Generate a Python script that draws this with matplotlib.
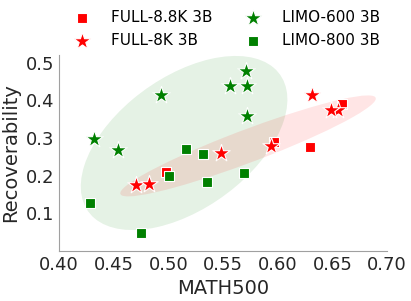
import numpy as np
import matplotlib.pyplot as plt
import matplotlib.transforms as transforms
from matplotlib.patches import Ellipse

# values (MATH500, Recoverability)
full88_x = [0.498, 0.597, 0.659, 0.630]
full88_y = [0.211, 0.289, 0.391, 0.275]
full8_x = [0.470, 0.482, 0.548, 0.594, 0.631, 0.655, 0.649]
full8_y = [0.176, 0.178, 0.261, 0.278, 0.415, 0.374, 0.373]
limo600_x = [0.493, 0.432, 0.454, 0.571, 0.556, 0.572, 0.572]
limo600_y = [0.415, 0.298, 0.267, 0.479, 0.438, 0.438, 0.358]
limo800_x = [0.501, 0.535, 0.428, 0.475, 0.516, 0.532, 0.569]
limo800_y = [0.200, 0.183, 0.127, 0.049, 0.271, 0.257, 0.207]

# shaded regions: center x, center y, half-extent x, half-extent y, correlation
limo_region = [0.5144, 0.2867, 0.0945, 0.231, 0.50]
full_region = [0.5729, 0.279, 0.1169, 0.134, 0.9375]


def region_ellipse(ax, cx, cy, hx, hy, r, **kwargs):
    ell = Ellipse((0, 0), width=2 * np.sqrt(1 + r), height=2 * np.sqrt(1 - r), **kwargs)
    t = transforms.Affine2D().rotate_deg(45).scale(hx, hy).translate(cx, cy)
    ell.set_transform(t + ax.transData)
    return ax.add_patch(ell)


fig = plt.figure(figsize=(4.11, 3.01), dpi=100)
ax = fig.add_axes([0.1436, 0.166, 0.798, 0.651])

region_ellipse(ax, *limo_region, facecolor='green', alpha=0.1, edgecolor='none', zorder=1)
region_ellipse(ax, *full_region, facecolor='red', alpha=0.1, edgecolor='none', zorder=1)

ax.scatter(full88_x, full88_y, marker='s', s=55, color='red', edgecolor='white', linewidth=0.8, label='FULL-8.8K 3B', zorder=3)
ax.scatter(full8_x, full8_y, marker='*', s=170, color='red', edgecolor='white', linewidth=0.8, label='FULL-8K 3B', zorder=3)
ax.scatter(limo600_x, limo600_y, marker='*', s=170, color='green', edgecolor='white', linewidth=0.8, label='LIMO-600 3B', zorder=3)
ax.scatter(limo800_x, limo800_y, marker='s', s=55, color='green', edgecolor='white', linewidth=0.8, label='LIMO-800 3B', zorder=3)

ax.set_xlim(0.40, 0.70)
ax.set_ylim(0.0, 0.52)
ax.set_xticks([0.40, 0.45, 0.50, 0.55, 0.60, 0.65, 0.70])
ax.set_yticks([0.1, 0.2, 0.3, 0.4, 0.5])
ax.tick_params(length=0, labelsize=13, colors='#262626')
ax.spines['top'].set_visible(False)
ax.spines['right'].set_visible(False)
ax.spines['left'].set_color('#a0a0a0')
ax.spines['bottom'].set_color('#a0a0a0')
ax.set_xlabel('MATH500', fontsize=14, color='#262626')
ax.set_ylabel('Recoverability', fontsize=14, color='#262626')

ax.legend(loc='upper center', bbox_to_anchor=(0.5, 1.30), ncol=2, frameon=False,
          fontsize=11, columnspacing=1.65, handletextpad=0.9)

plt.savefig('out.png', dpi=100)
